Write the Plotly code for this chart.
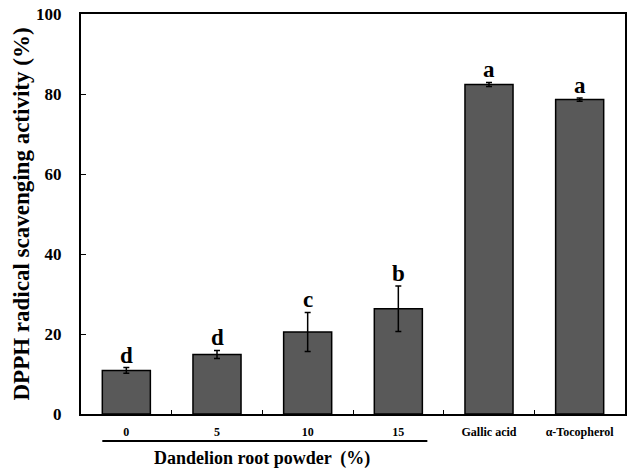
import plotly.graph_objects as go

categories = ["0", "5", "10", "15", "Gallic acid", "α-Tocopherol"]
means = [10.9, 14.9, 20.5, 26.3, 82.4, 78.6]
errors = [0.7, 1.0, 4.9, 5.7, 0.5, 0.4]
letters = ["d", "d", "c", "b", "a", "a"]
y_ticks = [0, 20, 40, 60, 80, 100]
group_label = "Dandelion root powder (%)"
group_members = ["0", "5", "10", "15"]
y_title = "DPPH radical scavenging activity (%)"

FONT = "Liberation Serif, Times New Roman, serif"

fig = go.Figure()
fig.add_trace(go.Bar(
    x=categories, y=means,
    width=0.53,
    marker=dict(color="#595959", line=dict(color="black", width=1.5)),
    error_y=dict(type="data", array=errors, visible=True, color="black",
                 thickness=1.5, width=3),
    showlegend=False,
))

for i, (m, e, l) in enumerate(zip(means, errors, letters)):
    fig.add_annotation(x=i, y=m + e, text="<b>%s</b>" % l, showarrow=False,
                       yanchor="bottom", yshift=-2,
                       font=dict(family=FONT, size=23, color="black"))

idx0 = categories.index(group_members[0])
idx1 = categories.index(group_members[-1])
fig.add_shape(type="line", xref="x", yref="paper",
              x0=idx0 - 0.265, x1=idx1 + 0.32, y0=-0.0675, y1=-0.0675,
              line=dict(color="black", width=2))
fig.add_annotation(x=(idx0 + idx1) / 2, xref="x", y=-0.11, yref="paper",
                   text="<b>%s</b>" % group_label.replace(" (%)", "  (%)"),
                   showarrow=False, yanchor="middle",
                   font=dict(family=FONT, size=18, color="black"))

fig.update_layout(
    width=632, height=468,
    margin=dict(l=81, r=5, t=14, b=54),
    plot_bgcolor="white", paper_bgcolor="white",
    font=dict(family=FONT, color="black"),
    xaxis=dict(
        type="category", tickmode="array", tickvals=categories,
        ticktext=["<b>%s</b>" % c for c in categories],
        tickfont=dict(family=FONT, size=12, color="black"),
        tickangle=0, range=[-0.5, len(categories) - 0.5],
        showline=True, linecolor="black", linewidth=2, mirror=True,
        ticks="inside", tickson="boundaries", ticklen=4, tickcolor="black",
        tickwidth=1, showgrid=False, ticklabelstandoff=6,
    ),
    yaxis=dict(
        range=[0, 100], tickvals=y_ticks,
        ticktext=["<b>%d</b>" % v for v in y_ticks],
        tickfont=dict(family=FONT, size=17, color="black"),
        showline=True, linecolor="black", linewidth=2, mirror=True,
        ticks="inside", ticklen=5, tickcolor="black", tickwidth=1,
        showgrid=False, zeroline=False, ticklabelstandoff=14,
        ticklabeloverflow="allow",
        title=dict(text="<b>%s</b>" % y_title, standoff=0,
                   font=dict(family=FONT, size=23, color="black")),
    ),
)

fig.write_html("out.html", config={"displayModeBar": False},
               post_script="document.body.style.margin='0px';document.body.style.overflow='hidden';")
